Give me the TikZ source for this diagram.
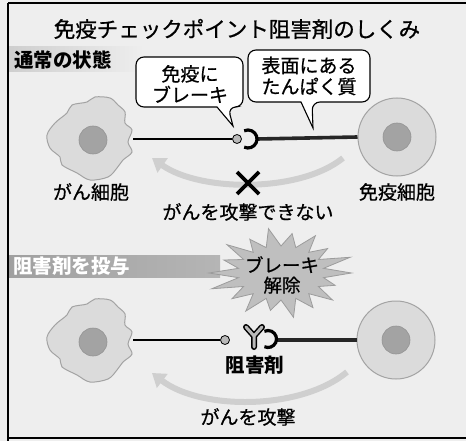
\documentclass[tikz,border=0pt]{standalone}
\usepackage{fontspec}
\newfontfamily\jp[FakeBold=0.7]{Noto Sans CJK JP}
\newfontfamily\jpb{Noto Sans CJK JP}
\usetikzlibrary{arrows.meta}

\begin{document}
\begin{tikzpicture}[x=1pt,y=-1pt,
  every node/.style={inner sep=0pt, font=\jp},
  title/.style={font=\jp\fontsize{21.5}{24}\selectfont},
  lbl/.style={font=\jp\fontsize{19}{21}\selectfont, align=center},
  boldlbl/.style={font=\jpb\bfseries\fontsize{19.5}{22}\selectfont},
  bubble/.style={draw=black, fill=white, line width=1.1pt},
  cellbody/.style={fill=gray!28, draw=gray!72, line width=1pt},
  immune/.style={circle, minimum size=78pt, cellbody},
  nucleus/.style={circle, minimum size=28pt, fill=gray!72, draw=gray!85, line width=0.6pt},
  ball/.style={circle, minimum size=9pt, fill=gray!55, draw=black, line width=0.8pt},
  thinlink/.style={draw=black, line width=2pt},
  thicklink/.style={draw=black!85, line width=3.6pt},
  receptor/.style={draw=black, line width=3.2pt},
  attack/.style={draw=gray!38, line width=6pt,
    -{Triangle[length=13pt,width=17pt]}},
  cross/.style={draw=black, line width=3.6pt}
]
\useasboundingbox (0,0) rectangle (466,441);

% paper tone and frame
\fill[gray!13] (0,0) rectangle (466,441);
\draw[line width=2pt] (8,3) -- (466,3);
\draw[line width=1.2pt] (8,3) -- (8,441);
\draw[line width=1.4pt] (8,438) -- (466,438);

% title
\node[title] (title) at (237,29) {免疫チェックポイント阻害剤のしくみ};

% section bands
\shade[left color=gray!38, right color=gray!13] (9,47) rectangle (145,72);
\node[boldlbl, anchor=west] (normal) at (14,60) {通常の状態};
\shade[left color=gray!75, right color=gray!58] (9,255) rectangle (220,277);
\node[boldlbl, anchor=west, text=white] (dose) at (13,266) {阻害剤を投与};

% ---------- normal state ----------
\coordinate (can1e) at (133,139);
\node[ball] (ball1) at (237,139) {};
\coordinate (rc1) at (248,139);
\coordinate (rc1e) at (257,139);
\node[immune] (imm1) at (397,137) {};

\draw[thinlink] (can1e) -- (ball1);
\draw[thicklink] (rc1e) -- (imm1.west);
\draw[receptor] ([shift={(115:9)}]rc1) arc[start angle=115, end angle=-115, radius=9];

% cancer cell
\begin{scope}[shift={(93,140)}]
  \draw[cellbody] plot[smooth cycle, tension=0.55] coordinates {
    (-46,-5) (-38,-17) (-26,-27) (-21,-35) (-6,-38) (2,-43) (17,-42)
    (25,-35) (32,-28) (32,-17) (39,-10) (35,2) (39,12) (30,20) (24,28)
    (15,37) (-3,40) (-16,33) (-31,25) (-33,17) (-43,8)};
\end{scope}
\node[nucleus] (can1) at (93,140) {};
\node[nucleus] (imm1n) at (imm1) {};

% speech bubbles
\draw[bubble] (190,57) [rounded corners=8pt] -- (243,57) -- (243,107)
  -- (228,107) [sharp corners] -- (233,126) -- (217,107)
  [rounded corners=8pt] -- (136,107) -- (136,57) -- cycle;
\node[lbl] (brake) at (190,84) {免疫に\\ブレーキ};
\draw[bubble] (309,50) [rounded corners=8pt] -- (370,50) -- (370,102)
  -- (312,102) [sharp corners] -- (313,128) -- (301,102)
  [rounded corners=8pt] -- (248,102) -- (248,50) -- cycle;
\node[lbl] (protein) at (309,76) {表面にある\\たんぱく質};

% blocked attack
\coordinate (a1s) at (343,158);
\coordinate (a1e) at (152,158);
\draw[attack] (a1s) .. controls (300,193) and (200,192) .. (a1e);
\coordinate (x1) at (248,183);
\draw[cross] ([shift={(-11,-11)}]x1) -- ([shift={(11,11)}]x1)
             ([shift={(11,-11)}]x1) -- ([shift={(-11,11)}]x1);

\node[lbl] (canlbl) at (91,192) {がん細胞};
\node[lbl] (immlbl) at (397,192) {免疫細胞};
\node[lbl] (noatk) at (248,212) {がんを攻撃できない};

% ---------- with inhibitor ----------
\coordinate (can2e) at (133,340);
\node[ball] (ball2) at (225,340) {};
\coordinate (rc2) at (268,339);
\coordinate (rc2e) at (276,340);
\node[immune] (imm2) at (396,340) {};

\draw[thinlink] (can2e) -- (ball2);
\draw[thicklink] (rc2e) -- (imm2.west);

\begin{scope}[shift={(93,342)}]
  \draw[cellbody] plot[smooth cycle, tension=0.55] coordinates {
    (-46,-5) (-38,-17) (-26,-27) (-21,-35) (-6,-38) (2,-43) (17,-42)
    (25,-35) (32,-28) (32,-17) (39,-10) (35,2) (39,12) (30,20) (24,28)
    (15,37) (-3,40) (-16,33) (-31,25) (-33,17) (-43,8)};
\end{scope}
\node[nucleus] (can2) at (93,342) {};
\node[nucleus] (imm2n) at (imm2) {};

% antibody binding the receptor
\coordinate (yb) at (254,347);
\coordinate (yj) at (254,336);
\coordinate (yl) at (246,327);
\coordinate (yr) at (262,327);
\draw[black, line width=6pt, line cap=round, line join=round] (yb) -- (yj) -- (yl) (yj) -- (yr);
\draw[gray!55, line width=3pt, line cap=round, line join=round] (yb) -- (yj) -- (yl) (yj) -- (yr);
\draw[receptor] ([shift={(115:8.5)}]rc2) arc[start angle=115, end angle=-115, radius=8.5];

\node[boldlbl] (drug) at (255,365) {阻害剤};

% brake release burst
\begin{scope}[shift={(281,273)}, xscale=1.6]
  \draw[fill=gray!50, draw=gray!78, line width=0.8pt]
    (0:44) -- (10:27) -- (20:36) -- (30:27) -- (40:42) -- (50:27)
    -- (60:40) -- (70:27) -- (80:45) -- (90:27) -- (100:38) -- (110:27)
    -- (120:44) -- (130:27) -- (140:40) -- (150:27) -- (160:46) -- (170:27)
    -- (180:45) -- (190:27) -- (200:38) -- (210:27) -- (220:44) -- (230:27)
    -- (240:39) -- (250:27) -- (260:45) -- (270:27) -- (280:40) -- (290:27)
    -- (300:43) -- (310:27) -- (320:38) -- (330:27) -- (340:46) -- (350:27)
    -- cycle;
\end{scope}
\node[lbl, font=\jp\fontsize{18.5}{20}\selectfont] (release) at (282,275) {ブレーキ\\解除};

% attack restored
\coordinate (a2s) at (347,372);
\coordinate (a2e) at (152,373);
\draw[attack] (a2s) .. controls (300,411) and (200,410) .. (a2e);
\node[lbl] (atk) at (248,417) {がんを攻撃};

\end{tikzpicture}
\end{document}
